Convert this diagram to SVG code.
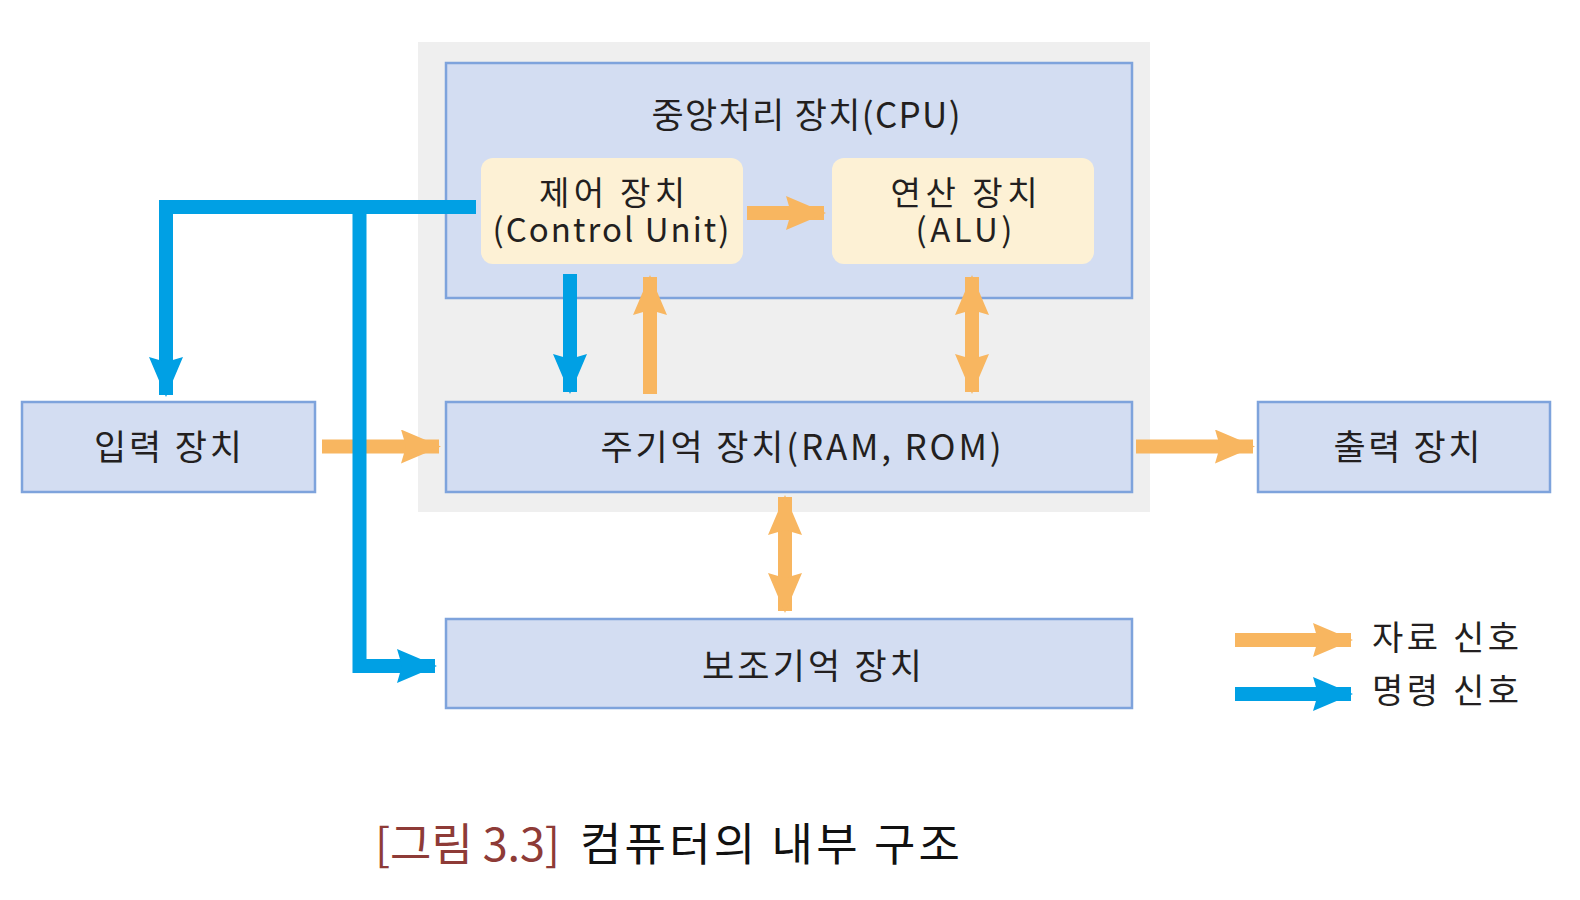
<svg xmlns="http://www.w3.org/2000/svg" width="1580" height="900" viewBox="0 0 1580 900">
<style>
  .box { fill: #d3ddf2; stroke: #7ea3dc; stroke-width: 2.5; }
  .unit { fill: #fdf1d5; stroke: none; }
  .t { font-family: "Noto Sans CJK KR", "Noto Sans", sans-serif; font-size: 35px; fill: #231f20; text-anchor: middle; }
  .u { font-size: 33px; }
  .leg { font-family: "Noto Sans CJK KR", "Noto Sans", sans-serif; font-size: 34px; fill: #231f20; }
  .blue { fill: none; stroke: #00a0e4; stroke-width: 14; stroke-linejoin: miter; stroke-linecap: butt; }
  .orange { fill: none; stroke: #f8b660; stroke-width: 14; stroke-linecap: butt; }
  .cap { font-family: "Noto Sans CJK KR", "Noto Sans", sans-serif; font-size: 45px; }
</style>
<defs>
  <marker id="hb" viewBox="0 0 40 34" markerWidth="40" markerHeight="34" refX="38" refY="17" markerUnits="userSpaceOnUse" orient="auto-start-reverse">
    <path d="M0,0 L40,17 L0,34 L5,17 Z" fill="#00a0e4"/>
  </marker>
  <marker id="ho" viewBox="0 0 40 34" markerWidth="40" markerHeight="34" refX="38" refY="17" markerUnits="userSpaceOnUse" orient="auto-start-reverse">
    <path d="M0,0 L40,17 L0,34 L5,17 Z" fill="#f8b660"/>
  </marker>
</defs>
<rect width="1580" height="900" fill="#ffffff"/>
<rect id="cpu-area" x="418" y="42" width="732" height="470" fill="#efefef"/>

<g id="cpu">
  <rect class="box" x="446" y="63" width="686" height="235"/>
  <text class="t" x="806" y="128" textLength="309" lengthAdjust="spacing">중앙처리 장치(CPU)</text>
</g>
<g id="control-unit">
  <rect class="unit" x="481" y="158" width="262" height="106" rx="12"/>
  <text class="t u" x="612" y="205" textLength="146" lengthAdjust="spacing">제어 장치</text>
  <text class="t u" x="611" y="242" textLength="237" lengthAdjust="spacing">(Control Unit)</text>
</g>
<g id="alu">
  <rect class="unit" x="832" y="158" width="262" height="106" rx="12"/>
  <text class="t u" x="964" y="205" textLength="147" lengthAdjust="spacing">연산 장치</text>
  <text class="t u" x="964" y="242" textLength="97" lengthAdjust="spacing">(ALU)</text>
</g>
<g id="main-memory">
  <rect class="box" x="446" y="402" width="686" height="90"/>
  <text class="t" x="801" y="460" textLength="401" lengthAdjust="spacing">주기억 장치(RAM, ROM)</text>
</g>
<g id="aux-memory">
  <rect class="box" x="446" y="619" width="686" height="89"/>
  <text class="t" x="812" y="679" textLength="220" lengthAdjust="spacing">보조기억 장치</text>
</g>
<g id="input">
  <rect class="box" x="22" y="402" width="293" height="90"/>
  <text class="t" x="168" y="460" textLength="148" lengthAdjust="spacing">입력 장치</text>
</g>
<g id="output">
  <rect class="box" x="1258" y="402" width="292" height="90"/>
  <text class="t" x="1407" y="460" textLength="147" lengthAdjust="spacing">출력 장치</text>
</g>

<g id="connectors">
  <line class="orange" x1="322" y1="446.5" x2="439" y2="446.5" marker-end="url(#ho)"/>
  <line class="orange" x1="1136" y1="446.5" x2="1253" y2="446.5" marker-end="url(#ho)"/>
  <line class="orange" x1="747" y1="213" x2="824" y2="213" marker-end="url(#ho)"/>
  <line class="orange" x1="650" y1="394" x2="650" y2="277" marker-end="url(#ho)"/>
  <line class="orange" x1="972" y1="277" x2="972" y2="392" marker-start="url(#ho)" marker-end="url(#ho)"/>
  <line class="orange" x1="785" y1="497" x2="785" y2="611" marker-start="url(#ho)" marker-end="url(#ho)"/>
  <polyline class="blue" points="476,207 166,207 166,395" marker-end="url(#hb)"/>
  <polyline class="blue" points="359.5,201 359.5,666 435,666" marker-end="url(#hb)"/>
  <line class="blue" x1="570" y1="274" x2="570" y2="392" marker-end="url(#hb)"/>
</g>

<g id="legend">
  <line class="orange" x1="1235" y1="640" x2="1351" y2="640" marker-end="url(#ho)"/>
  <text class="leg" x="1372" y="650" textLength="147" lengthAdjust="spacing">자료 신호</text>
  <line class="blue" x1="1235" y1="694" x2="1351" y2="694" marker-end="url(#hb)"/>
  <text class="leg" x="1372" y="703" textLength="147" lengthAdjust="spacing">명령 신호</text>
</g>

<g id="caption">
  <text class="cap" x="375" y="861" fill="#8e3b37" textLength="185" lengthAdjust="spacing">[그림 3.3]</text>
  <text class="cap" x="580" y="861" fill="#111111" textLength="380" lengthAdjust="spacing">컴퓨터의 내부 구조</text>
</g>
</svg>
